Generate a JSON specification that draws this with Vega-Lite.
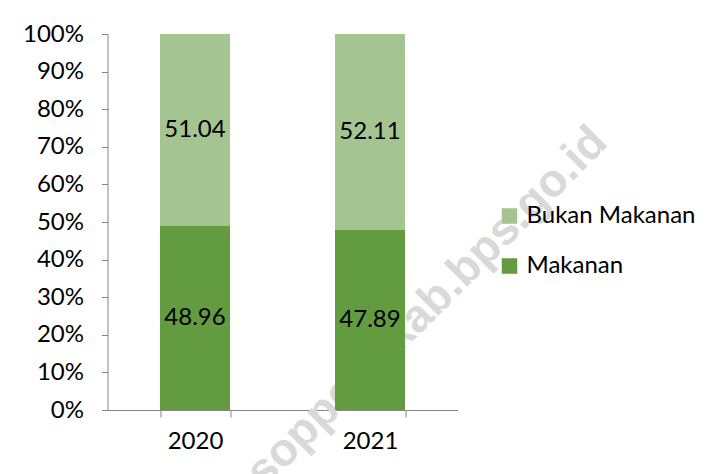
{
  "$schema": "https://vega.github.io/schema/vega-lite/v6.json",
  "width": 350,
  "height": 376,
  "autosize": {"type": "none"},
  "padding": {"left": 107.5, "top": 34, "right": 257.5, "bottom": 64},
  "background": "white",
  "config": {"view": {"stroke": null}, "font": "Lato"},
  "data": {"values": [
    {"tahun": "2020", "kategori": "Makanan", "nilai": 48.96},
    {"tahun": "2020", "kategori": "Bukan Makanan", "nilai": 51.04},
    {"tahun": "2021", "kategori": "Makanan", "nilai": 47.89},
    {"tahun": "2021", "kategori": "Bukan Makanan", "nilai": 52.11}
  ]},
  "encoding": {
    "x": {
      "field": "tahun", "type": "nominal",
      "scale": {"paddingInner": 0.6, "paddingOuter": 0.3},
      "axis": {"title": null, "labelAngle": 0, "tickBand": "extent", "tickSize": 7, "labelPadding": 12,
               "labelFontSize": 24, "labelColor": "#000000", "domainColor": "#868686", "tickColor": "#868686"}
    }
  },
  "layer": [
    {
      "data": {"values": [{"teks": "soppengkab.bps.go.id"}]},
      "mark": {"type": "text", "font": "Liberation Sans", "fontWeight": "bold", "fontSize": 46, "color": "#d9d9d9",
               "angle": -45, "align": "center", "baseline": "middle", "dx": 80.6},
      "encoding": {
        "x": {"datum": "2021", "type": "nominal"},
        "y": {"datum": 12.2, "type": "quantitative",
              "scale": {"domain": [0, 100], "nice": false},
              "axis": {"title": null, "values": [0, 10, 20, 30, 40, 50, 60, 70, 80, 90, 100], "labelExpr": "datum.value + '%'",
                       "labelOverlap": false, "grid": false, "tickSize": 6, "labelPadding": 18, "labelFontSize": 24,
                       "labelColor": "#000000", "domainColor": "#868686", "tickColor": "#868686"}},
        "text": {"field": "teks"}
      }
    },
    {
      "mark": {"type": "bar"},
      "encoding": {
        "y": {
          "field": "nilai", "type": "quantitative", "stack": "zero",
          "scale": {"domain": [0, 100], "nice": false},
          "axis": {"title": null, "values": [0, 10, 20, 30, 40, 50, 60, 70, 80, 90, 100], "labelExpr": "datum.value + '%'",
                   "labelOverlap": false, "grid": false, "tickSize": 6, "labelPadding": 18, "labelFontSize": 24,
                   "labelColor": "#000000", "domainColor": "#868686", "tickColor": "#868686"}
        },
        "color": {
          "field": "kategori", "type": "nominal",
          "scale": {"domain": ["Bukan Makanan", "Makanan"], "range": ["#a4c592", "#629b40"]},
          "legend": {"orient": "none", "legendX": 390, "legendY": 170, "title": null, "symbolType": "square",
                     "symbolSize": 240, "symbolStrokeWidth": 0, "labelFontSize": 24, "labelColor": "#000000",
                     "labelLimit": 300, "rowPadding": 26, "labelOffset": 5}
        },
        "order": {"field": "kategori", "sort": "descending"}
      }
    },
    {
      "mark": {"type": "text", "fontSize": 24, "color": "#000000", "baseline": "middle", "align": "center"},
      "encoding": {
        "y": {"field": "nilai", "type": "quantitative", "stack": "zero", "bandPosition": 0.5,
              "axis": {"title": null, "values": [0, 10, 20, 30, 40, 50, 60, 70, 80, 90, 100], "labelExpr": "datum.value + '%'",
                       "labelOverlap": false, "grid": false, "tickSize": 6, "labelPadding": 18, "labelFontSize": 24,
                       "labelColor": "#000000", "domainColor": "#868686", "tickColor": "#868686"}},
        "detail": {"field": "kategori"},
        "order": {"field": "kategori", "sort": "descending"},
        "text": {"field": "nilai", "type": "quantitative", "format": ".2f"}
      }
    }
  ]
}
